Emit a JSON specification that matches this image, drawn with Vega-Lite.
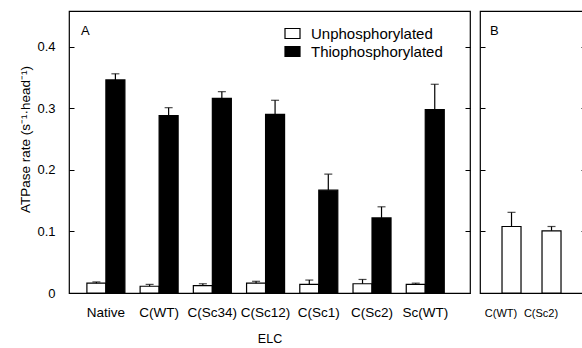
{
  "$schema": "https://vega.github.io/schema/vega-lite/v6.json",
  "padding": {"left": 18, "top": 10, "right": 0, "bottom": 0},
  "background": "white",
  "config": {
    "font": "Liberation Sans",
    "view": {"stroke": "black", "strokeWidth": 1.2},
    "axis": {"labelFont": "Liberation Sans", "titleFont": "Liberation Sans", "labelColor": "black", "titleColor": "black", "domainColor": "black", "tickColor": "black", "grid": false, "titleFontWeight": "normal"},
    "concat": {"spacing": 6},
    "title": {"font": "Liberation Sans", "fontWeight": "normal", "color": "black"}
  },
  "datasets": {
    "a": [
      {"elc": "Native", "type": "Unphosphorylated", "rate": 0.016, "err": 0.018},
      {"elc": "Native", "type": "Thiophosphorylated", "rate": 0.346, "err": 0.356},
      {"elc": "C(WT)", "type": "Unphosphorylated", "rate": 0.011, "err": 0.014},
      {"elc": "C(WT)", "type": "Thiophosphorylated", "rate": 0.288, "err": 0.301},
      {"elc": "C(Sc34)", "type": "Unphosphorylated", "rate": 0.012, "err": 0.015},
      {"elc": "C(Sc34)", "type": "Thiophosphorylated", "rate": 0.316, "err": 0.327},
      {"elc": "C(Sc12)", "type": "Unphosphorylated", "rate": 0.016, "err": 0.019},
      {"elc": "C(Sc12)", "type": "Thiophosphorylated", "rate": 0.290, "err": 0.313},
      {"elc": "C(Sc1)", "type": "Unphosphorylated", "rate": 0.014, "err": 0.021},
      {"elc": "C(Sc1)", "type": "Thiophosphorylated", "rate": 0.167, "err": 0.193},
      {"elc": "C(Sc2)", "type": "Unphosphorylated", "rate": 0.015, "err": 0.022},
      {"elc": "C(Sc2)", "type": "Thiophosphorylated", "rate": 0.122, "err": 0.140},
      {"elc": "Sc(WT)", "type": "Unphosphorylated", "rate": 0.014, "err": 0.016},
      {"elc": "Sc(WT)", "type": "Thiophosphorylated", "rate": 0.298, "err": 0.339}
    ],
    "b": [
      {"elc": "C(WT)", "type": "Unphosphorylated", "rate": 0.108, "err": 0.131},
      {"elc": "C(Sc2)", "type": "Unphosphorylated", "rate": 0.101, "err": 0.108}
    ]
  },
  "hconcat": [
    {
      "width": 401,
      "height": 282,
      "data": {"name": "a"},
      "title": {"text": "A", "anchor": "start", "frame": "group", "offset": -37, "dx": 12, "baseline": "alphabetic", "fontSize": 13},
      "encoding": {
        "x": {"field": "elc", "type": "nominal", "sort": null,
          "scale": {"paddingInner": 0.286, "paddingOuter": 0.41, "align": 0.41},
          "axis": {"title": "ELC", "ticks": false, "tickSize": 0, "domain": false, "labelAngle": 0, "labelPadding": 12, "labelFontSize": 13.5, "titleFontSize": 12.5, "titlePadding": 14}},
        "xOffset": {"field": "type", "type": "nominal", "sort": ["Unphosphorylated", "Thiophosphorylated"], "scale": {"paddingInner": 0, "paddingOuter": 0}}
      },
      "layer": [
        {
          "mark": {"type": "bar", "stroke": "black", "strokeWidth": 1.2},
          "encoding": {
            "y": {"field": "rate", "type": "quantitative", "scale": {"domain": [0, 0.458], "nice": false, "zero": true},
              "axis": {"title": "ATPase rate  (s⁻¹·head⁻¹)", "values": [0, 0.1, 0.2, 0.3, 0.4], "labelExpr": "datum.value == 0 ? '0' : format(datum.value, '.1f')", "tickSize": -5, "labelPadding": 19, "labelFontSize": 13, "titleFontSize": 13.5, "titlePadding": 4, "titleY": 128, "domain": false}},
            "fill": {"field": "type", "type": "nominal", "sort": ["Unphosphorylated", "Thiophosphorylated"],
              "scale": {"domain": ["Unphosphorylated", "Thiophosphorylated"], "range": ["white", "black"]},
              "legend": {"title": null, "orient": "none", "legendX": 215, "legendY": 14, "symbolType": "M-1,-0.667H1V0.667H-1Z", "symbolSize": 225, "symbolStrokeColor": "black", "symbolStrokeWidth": 1.2, "labelFontSize": 15, "labelFont": "Liberation Sans", "labelColor": "black", "labelOffset": 10, "rowPadding": 1}}
          }
        },
        {
          "mark": {"type": "rule", "color": "black", "strokeWidth": 1.2},
          "encoding": {
            "y": {"field": "rate", "type": "quantitative", "axis": null},
            "y2": {"field": "err"}
          }
        },
        {
          "mark": {"type": "tick", "color": "black", "thickness": 1.2, "size": 8},
          "encoding": {
            "y": {"field": "err", "type": "quantitative", "axis": {"orient": "right", "title": null, "values": [0, 0.1, 0.2, 0.3, 0.4], "labels": false, "tickSize": -5, "domain": false}}
          }
        }
      ],
      "resolve": {"axis": {"y": "independent"}}
    },
    {
      "width": 106,
      "height": 282,
      "data": {"name": "b"},
      "title": {"text": "B", "anchor": "start", "frame": "group", "offset": -37, "dx": 10, "baseline": "alphabetic", "fontSize": 13},
      "encoding": {
        "x": {"field": "elc", "type": "nominal", "sort": null,
          "scale": {"paddingInner": 0.525, "paddingOuter": 0.5875, "align": 0.245},
          "axis": {"title": null, "ticks": false, "tickSize": 0, "domain": false, "labelAngle": 0, "labelPadding": 14, "labelFontSize": 11}}
      },
      "layer": [
        {
          "mark": {"type": "bar", "stroke": "black", "strokeWidth": 1.2, "xOffset": 10.5},
          "encoding": {
            "y": {"field": "rate", "type": "quantitative", "scale": {"domain": [0, 0.458], "nice": false, "zero": true},
              "axis": {"title": null, "values": [0, 0.1, 0.2, 0.3, 0.4], "labels": false, "tickSize": -5, "domain": false}},
            "fill": {"field": "type", "type": "nominal", "scale": {"domain": ["Unphosphorylated", "Thiophosphorylated"], "range": ["white", "black"]}, "legend": null}
          }
        },
        {
          "mark": {"type": "rule", "color": "black", "strokeWidth": 1.2, "xOffset": 10.5},
          "encoding": {
            "y": {"field": "rate", "type": "quantitative", "axis": null},
            "y2": {"field": "err"}
          }
        },
        {
          "mark": {"type": "tick", "color": "black", "thickness": 1.2, "size": 8, "xOffset": 10.5},
          "encoding": {
            "y": {"field": "err", "type": "quantitative", "axis": {"orient": "right", "title": null, "values": [0, 0.1, 0.2, 0.3, 0.4], "labels": false, "tickSize": -5, "domain": false}}
          }
        }
      ],
      "resolve": {"axis": {"y": "independent"}}
    }
  ],
  "resolve": {"scale": {"x": "independent", "y": "independent", "xOffset": "independent", "fill": "independent"}}
}
